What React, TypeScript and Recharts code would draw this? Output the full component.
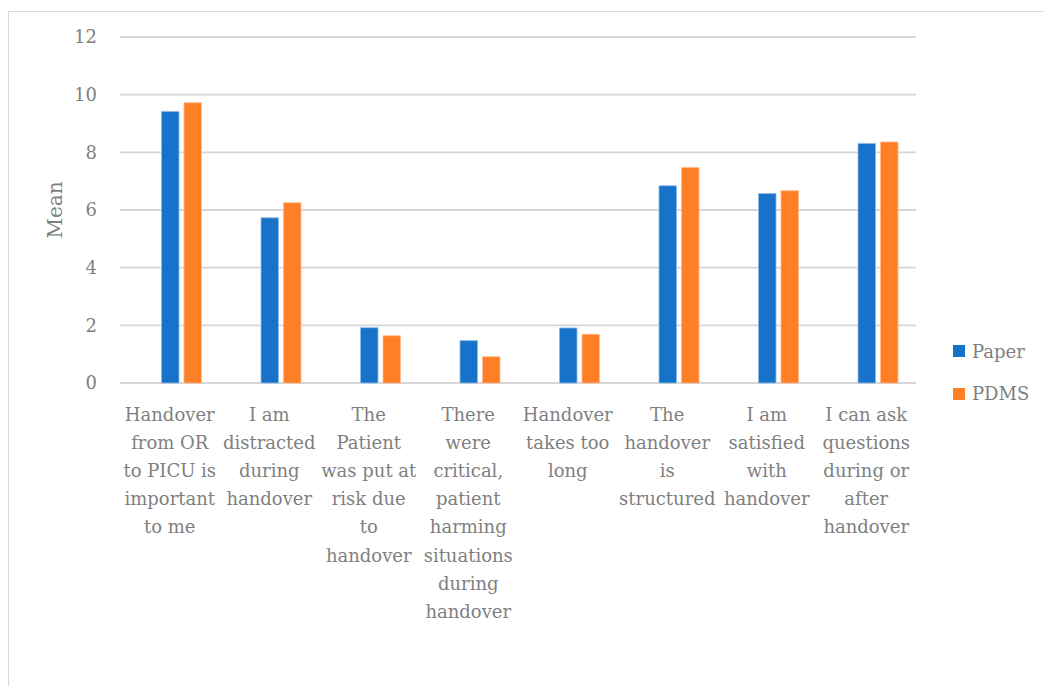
import React from 'react';
import { BarChart, Bar, XAxis, YAxis, CartesianGrid, Legend, Label } from 'recharts';

const categories: string[] = [
  'Handover\nfrom OR\nto PICU is\nimportant\nto me',
  'I am\ndistracted\nduring\nhandover',
  'The\nPatient\nwas put at\nrisk due\nto\nhandover',
  'There\nwere\ncritical,\npatient\nharming\nsituations\nduring\nhandover',
  'Handover\ntakes too\nlong',
  'The\nhandover\nis\nstructured',
  'I am\nsatisfied\nwith\nhandover',
  'I can ask\nquestions\nduring or\nafter\nhandover',
];

const seriesNames: string[] = ['Paper', 'PDMS'];
const paperValues: number[] = [9.42, 5.73, 1.92, 1.47, 1.91, 6.84, 6.57, 8.31];
const pdmsValues: number[] = [9.72, 6.25, 1.64, 0.91, 1.69, 7.47, 6.67, 8.36];

const yTicks: number[] = [0, 2, 4, 6, 8, 10, 12];

const data = categories.map((c, i) => ({ category: c, Paper: paperValues[i], PDMS: pdmsValues[i] }));

const FONT = '"DejaVu Serif", serif';
const TEXT = '#7f7f7f';

const CategoryTick = (props: any) => {
  const { x, y, payload } = props;
  const lines = String(payload.value).split('\n');
  return (
    <text x={x} y={y} textAnchor="middle" fill={TEXT} fontSize={18} fontFamily={FONT}>
      {lines.map((l, i) => (
        <tspan key={i} x={x} dy={i === 0 ? 38 : 28.1}>
          {l}
        </tspan>
      ))}
    </text>
  );
};

const LegendContent = (props: any) => {
  const items = (props.payload || [])
    .filter((p: any) => p.type !== 'none' && seriesNames.indexOf(String(p.value)) >= 0)
    .slice()
    .sort((a: any, b: any) => seriesNames.indexOf(String(a.value)) - seriesNames.indexOf(String(b.value)));
  return (
    <div style={{ fontFamily: FONT, fontSize: 18, color: TEXT }}>
      {items.map((p: any) => (
        <div key={p.value} style={{ display: 'flex', alignItems: 'center', height: 42.5 }}>
          <span style={{ display: 'inline-block', width: 12, height: 12, background: p.color, marginRight: 7 }} />
          <span>{p.value}</span>
        </div>
      ))}
    </div>
  );
};

export default function App() {
  return (
    <div style={{ position: 'fixed', left: 0, top: 0, width: 1043, height: 686, overflow: 'hidden', background: '#fff' }}>
      <div
        style={{
          position: 'absolute',
          left: 8,
          top: 11,
          width: 1200,
          height: 900,
          border: '1px solid #d9d9d9',
        }}
      />
      <div style={{ position: 'absolute', left: 0, top: 0 }}>
        <BarChart
          width={1043}
          height={686}
          data={data}
          margin={{ top: 37, right: 127, left: 20, bottom: 53 }}
          barGap={5}
          barSize={17.5}
        >
          <CartesianGrid vertical={false} stroke="#d6d6d6" strokeWidth={1.8} />
          <XAxis
            dataKey="category"
            interval={0}
            axisLine={false}
            tickLine={false}
            tickSize={0}
            tickMargin={0}
            height={250}
            tick={<CategoryTick />}
          />
          <YAxis
            width={100}
            domain={[0, 12]}
            ticks={yTicks}
            axisLine={false}
            tickLine={false}
            tickSize={0}
            tickMargin={23}
            tick={{ fill: TEXT, fontSize: 18, fontFamily: FONT }}
          >
            <Label
              content={(p: any) => {
                const vb = p.viewBox || {};
                const cx = vb.x + 35;
                const cy = vb.y + vb.height / 2;
                return (
                  <text
                    x={cx}
                    y={cy}
                    transform={`rotate(-90 ${cx} ${cy})`}
                    textAnchor="middle"
                    dominantBaseline="central"
                    fill={TEXT}
                    fontSize={20}
                    fontFamily={FONT}
                  >
                    Mean
                  </text>
                );
              }}
            />
          </YAxis>
          <Legend
            layout="vertical"
            align="center"
            verticalAlign="middle"
            itemSorter={null as any}
            wrapperStyle={{ left: 953, top: 330, width: 90 }}
            content={<LegendContent />}
          />
          <Bar dataKey="spacer" legendType="none" fill="transparent" isAnimationActive={false} />
          <Bar dataKey="Paper" fill="#1773c9" stroke="#8fbbe6" strokeWidth={0.8} isAnimationActive={false} />
          <Bar dataKey="PDMS" fill="#ff7f27" stroke="#ffb88a" strokeWidth={0.8} isAnimationActive={false} />
        </BarChart>
      </div>
    </div>
  );
}
